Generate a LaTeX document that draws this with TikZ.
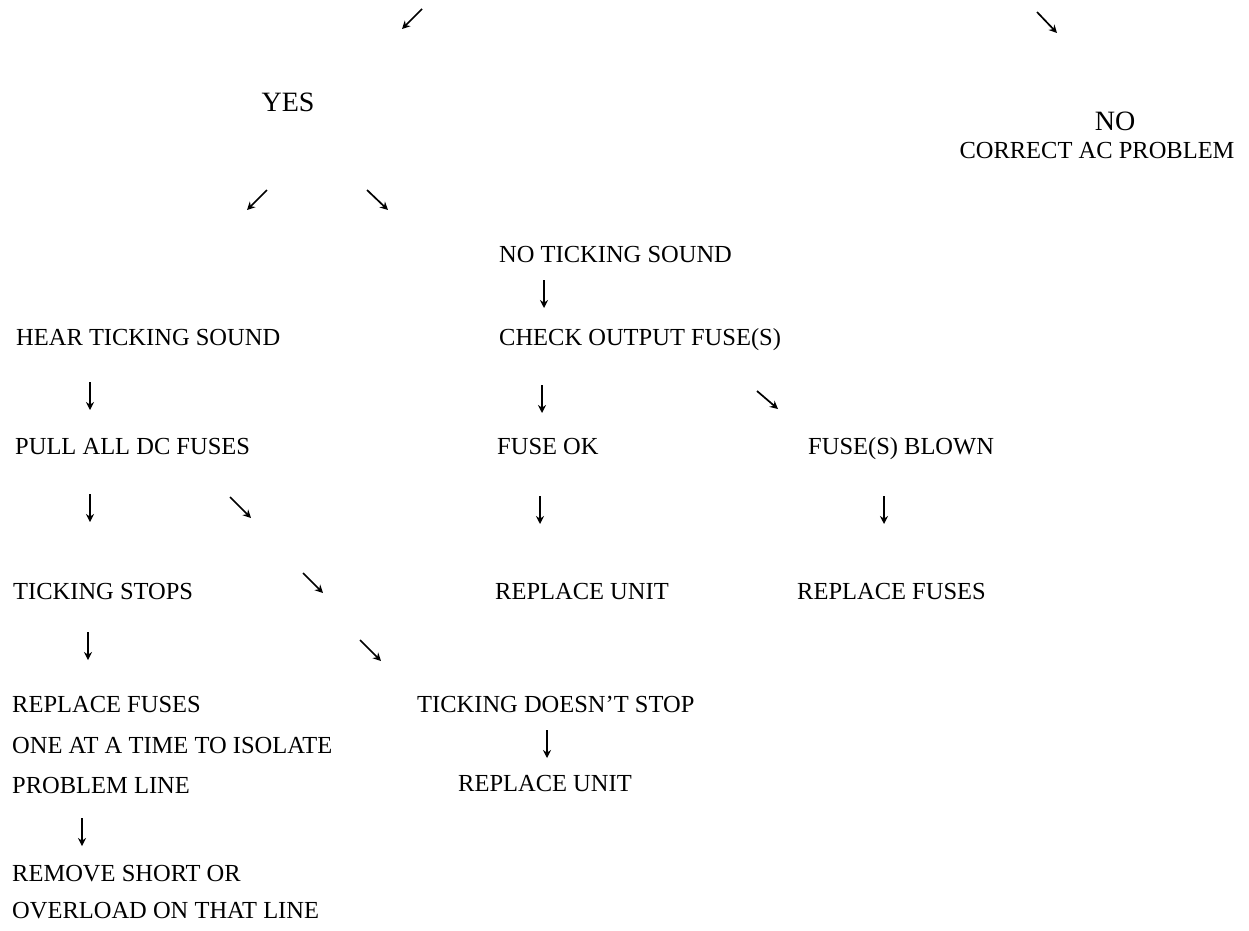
\documentclass[tikz,border=0pt]{standalone}
\usepackage{fontspec}
\setmainfont{Liberation Serif}
\usetikzlibrary{arrows.meta}
\begin{document}
\begin{tikzpicture}[x=1pt,y=-1pt,
  lbl/.style={anchor=base west,inner sep=0pt,font=\fontsize{24.5}{28}\selectfont},
  ctr/.style={anchor=base,inner sep=0pt,font=\fontsize{24.5}{28}\selectfont},
  big/.style={anchor=base,inner sep=0pt,font=\fontsize{28}{32}\selectfont},
  arr/.style={line width=1.7pt,-{Stealth[length=8pt,width=8pt]}}]
\useasboundingbox (0,0) rectangle (1249,930);
% texts
\node[big] (yes) at (288,111) {YES};
\node[big] (no) at (1115,130) {NO};
\node[ctr] (acp) at (1097,158) {CORRECT AC PROBLEM};
\node[lbl] (nts) at (499,262) {NO TICKING SOUND};
\node[lbl] (hts) at (16,345) {HEAR TICKING SOUND};
\node[lbl] (cof) at (499,345) {CHECK OUTPUT FUSE(S)};
\node[lbl] (pad) at (15,454) {PULL ALL DC FUSES};
\node[lbl] (fok) at (497,454) {FUSE OK};
\node[lbl] (fsb) at (808,454) {FUSE(S) BLOWN};
\node[lbl] (tst) at (13,599) {TICKING STOPS};
\node[lbl] (ru1) at (495,599) {REPLACE UNIT};
\node[lbl] (rf1) at (797,599) {REPLACE FUSES};
\node[lbl] (rf2) at (12,712) {REPLACE FUSES};
\node[lbl] (tds) at (417,712) {TICKING DOESN’T STOP};
\node[lbl] (oat) at (12,753) {ONE AT A TIME TO ISOLATE};
\node[lbl] (prl) at (12,793) {PROBLEM LINE};
\node[lbl] (ru2) at (458,791) {REPLACE UNIT};
\node[lbl] (rso) at (12,881) {REMOVE SHORT OR};
\node[lbl] (ool) at (12,918) {OVERLOAD ON THAT LINE};
% arrow end points
\coordinate (a1s) at (422,9);   \coordinate (a1e) at (402,29);
\coordinate (a2s) at (1037,12); \coordinate (a2e) at (1057,33);
\coordinate (a3s) at (267,190); \coordinate (a3e) at (247,210);
\coordinate (a4s) at (367,190); \coordinate (a4e) at (388,210);
\coordinate (a5s) at (544,280); \coordinate (a5e) at (544,308);
\coordinate (a6s) at (90,382);  \coordinate (a6e) at (90,410);
\coordinate (a7s) at (542,385); \coordinate (a7e) at (542,413);
\coordinate (a8s) at (757,391); \coordinate (a8e) at (778,409);
\coordinate (a9s) at (90,494);  \coordinate (a9e) at (90,522);
\coordinate (a10s) at (230,497); \coordinate (a10e) at (251,518);
\coordinate (a11s) at (540,496); \coordinate (a11e) at (540,524);
\coordinate (a12s) at (884,496); \coordinate (a12e) at (884,524);
\coordinate (a13s) at (303,573); \coordinate (a13e) at (323,593);
\coordinate (a14s) at (88,632);  \coordinate (a14e) at (88,660);
\coordinate (a15s) at (360,640); \coordinate (a15e) at (381,661);
\coordinate (a16s) at (547,730); \coordinate (a16e) at (547,758);
\coordinate (a17s) at (82,818);  \coordinate (a17e) at (82,846);
\foreach \i in {1,...,17} {\draw[arr] (a\i s) -- (a\i e);}
\end{tikzpicture}
\end{document}
